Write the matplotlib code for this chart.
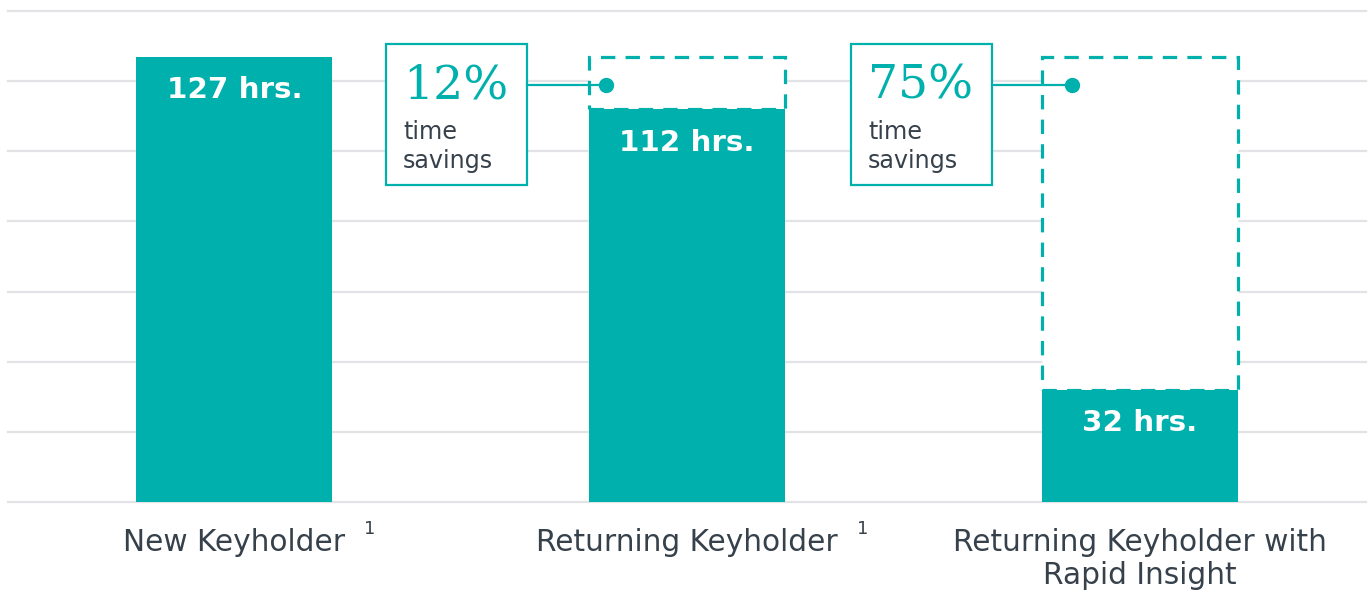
import matplotlib
matplotlib.use("Agg")
import matplotlib.pyplot as plt
from matplotlib.patches import Rectangle

plt.rcParams["font.family"] = ["DejaVu Sans"]

# data
categories = ["New Keyholder", "Returning Keyholder", "Returning Keyholder with\nRapid Insight"]
footnotes = ["1", "1", ""]
hours = [127, 112, 32]
bar_labels = ["127 hrs.", "112 hrs.", "32 hrs."]
savings_pct = ["12%", "75%"]
savings_text = "time\nsavings"

TEAL = "#00B0AD"
TEXT = "#36414B"
GRID = "#E1E3E6"

fig = plt.figure(figsize=(13.69, 5.93), dpi=100)
ax = fig.add_axes([8 / 1369, 91 / 593, 1358 / 1369, 491 / 593])

x = list(range(len(hours)))
width = 0.433
baseline = hours[0]

ax.set_xlim(-0.5, 2.5)
ax.set_ylim(0, 140)
ax.set_yticks(range(0, 141, 20))
ax.yaxis.grid(True, color=GRID, lw=1.6)
for gl in ax.yaxis.get_gridlines():
    gl.set_clip_on(False)
ax.set_axisbelow(True)
for s in ax.spines.values():
    s.set_visible(False)
ax.tick_params(left=False, bottom=False, labelleft=False)
ax.set_xticks(x)
ax.set_xticklabels(categories, fontsize=21.3, color=TEXT, linespacing=1.18)
ax.tick_params(axis="x", pad=15)

# dashed outlines showing the new-keyholder baseline
for xi, h in zip(x[1:], hours[1:]):
    ax.add_patch(Rectangle((xi - width / 2, h), width, baseline - h,
                           facecolor="white", edgecolor=TEAL, lw=2.3,
                           ls=(0, (4.5, 3.2)), zorder=2))

ax.bar(x, hours, width=width, color=TEAL, zorder=3)

for xi, h, lab in zip(x, hours, bar_labels):
    ax.annotate(lab, (xi, h), xytext=(0, -24), textcoords="offset points",
                ha="center", va="center", fontsize=21.2, fontweight="bold",
                color="white", zorder=4)

# footnote markers
sup_dx = [0.298, 0.389]
for xi, fn, dx in zip(x, footnotes, sup_dx + [0]):
    if fn:
        ax.text(xi + dx, -7.7, fn, ha="center", va="center", fontsize=13,
                color=TEXT, clip_on=False)

# savings callouts
box_left = [0.336, 1.363]
box_w = 0.311
box_bot, box_top = 90.3, 130.7
dot_dx = [0.0375, 0.068]
line_y = 118.8
for i, (pct, bl) in enumerate(zip(savings_pct, box_left)):
    ax.add_patch(Rectangle((bl, box_bot), box_w, box_top - box_bot,
                           facecolor="white", edgecolor=TEAL, lw=1.6,
                           zorder=5, clip_on=False))
    dot_x = x[i + 1] - width / 2 + dot_dx[i]
    ax.plot([bl + box_w, dot_x], [line_y, line_y], color=TEAL, lw=1.6, zorder=5)
    ax.plot(dot_x, line_y, "o", color=TEAL, ms=10, zorder=6)
    ax.text(bl + 0.037, 118.7, pct, ha="left", va="center", fontsize=34,
            family="DejaVu Serif", color=TEAL, zorder=6)
    ax.text(bl + 0.037, 101.3, savings_text, ha="left", va="center",
            fontsize=17.2, color=TEXT, linespacing=1.25, zorder=6)

fig.savefig("out.png", dpi=100)
